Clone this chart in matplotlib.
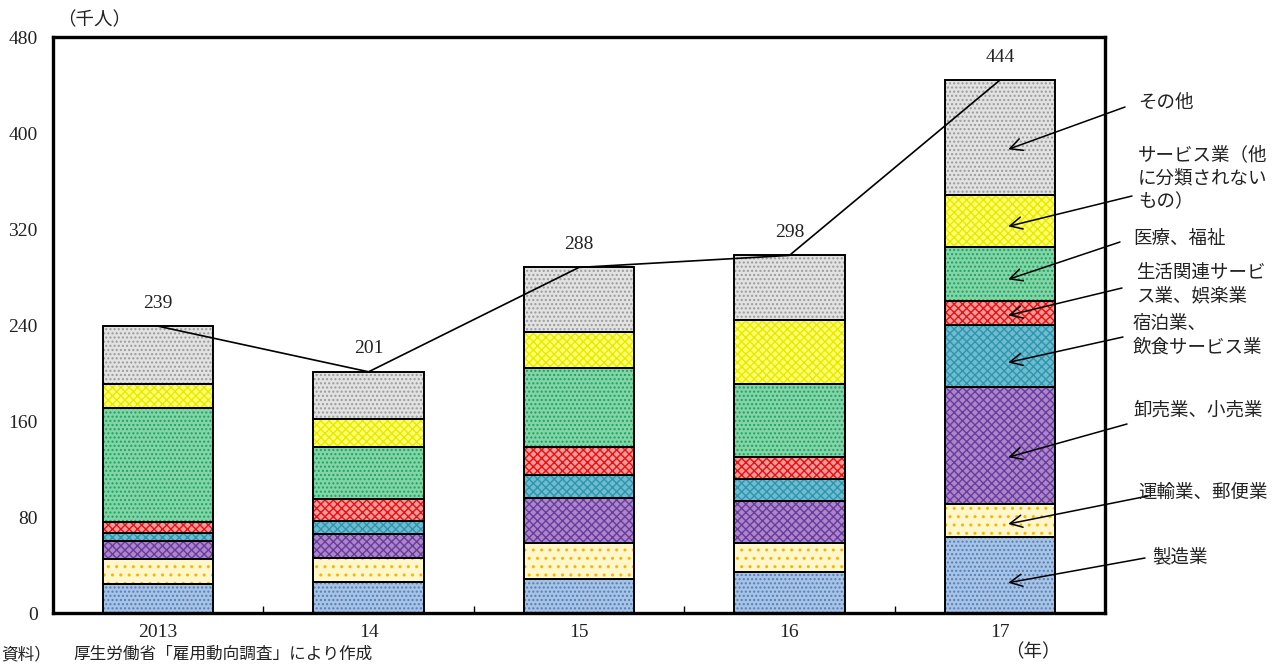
import matplotlib
matplotlib.use("Agg")
import matplotlib.pyplot as plt
import numpy as np

plt.rcParams['hatch.linewidth'] = 1.0

# Data (thousand persons)
years = ["2013", "14", "15", "16", "17"]
industries = [
    "製造業",
    "運輸業、郵便業",
    "卸売業、小売業",
    "宿泊業、\n飲食サービス業",
    "生活関連サービ\nス業、娯楽業",
    "医療、福祉",
    "サービス業（他\nに分類されない\nもの）",
    "その他",
]
manufacturing = [24, 26, 28, 34, 63]
transport = [21, 20, 30, 24, 28]
wholesale_retail = [15, 20, 38, 35, 97]
accommodation_food = [7, 11, 19, 19, 52]
living_leisure = [9, 18, 23, 18, 20]
medical_welfare = [95, 43, 66, 61, 45]
services_other = [20, 24, 30, 53, 43]
others = [48, 39, 54, 54, 96]
totals = [239, 201, 288, 298, 444]

series = [manufacturing, transport, wholesale_retail, accommodation_food,
          living_leisure, medical_welfare, services_other, others]

# fill tint, dot colour, hatch pattern for each segment
styles = [
    ("#a9c3e3", "#4f7fbf", "...."),
    ("#fff6cc", "#f5b800", ".."),
    ("#a987c9", "#6b3a9e", "xxxx"),
    ("#6ebccf", "#2f95ad", "xxxx"),
    ("#f49a9a", "#e81010", "xxxx"),
    ("#86d3aa", "#14a85a", "...."),
    ("#ffff70", "#e8e800", "xxxx"),
    ("#e2e2e2", "#9a9a9a", "...."),
]

SERIF = ["Liberation Serif", "DejaVu Serif"]
JP = ["Noto Sans CJK JP", "DejaVu Sans"]

fig = plt.figure(figsize=(12.79, 6.64), dpi=100)
ax = fig.add_axes([53 / 1279, 51 / 664, 1052 / 1279, 576 / 664])

x = np.arange(len(years))
width = 0.525
bottom = np.zeros(len(years))
for vals, (face, dot, hatch) in zip(series, styles):
    vals = np.array(vals, dtype=float)
    ax.bar(x, vals, width, bottom=bottom, color=face, edgecolor=dot,
           hatch=hatch, linewidth=0, zorder=2)
    ax.bar(x, vals, width, bottom=bottom, facecolor="none",
           edgecolor="black", linewidth=1.4, zorder=3)
    bottom += vals

# total line and labels
ax.plot(x, totals, color="black", linewidth=1.2, zorder=4)
for xi, t in zip(x, totals):
    ax.text(xi, t + 12, str(t), ha="center", va="bottom",
            fontsize=14, family=SERIF, color="#222222")

ax.set_xlim(-0.5, 4.5)
ax.set_ylim(0, 480)
ax.set_yticks(np.arange(0, 481, 80))
ax.set_xticks(x)
ax.set_xticklabels(years)
ax.set_xticks(np.arange(0.5, 4.0, 1.0), minor=True)
ax.tick_params(axis="y", length=0, pad=11)
ax.tick_params(axis="x", which="major", length=0, pad=8)
ax.tick_params(axis="x", which="minor", direction="in", length=5, width=1)
for lab in ax.get_xticklabels() + ax.get_yticklabels():
    lab.set_family(SERIF)
    lab.set_fontsize(14)
    lab.set_color("#222222")
for s in ax.spines.values():
    s.set_linewidth(2.4)

# callouts on the right pointing into the 2017 bar
text_pos = [  # left x (px), first-line centre y (px from top)
    (1152, 557), (1138, 493), (1133, 411), (1133, 324),
    (1136, 273), (1133, 239), (1138, 155), (1138, 103),
]
arrow_start = [
    (1145, 558), (1148, 496), (1127, 424), (1123, 337),
    (1122, 288), (1120, 242), (1132, 196), (1125, 107),
]
cum = np.cumsum([s[4] for s in series])
seg_bottom = np.concatenate([[0], cum[:-1]])
seg_height = np.array([s[4] for s in series])

H = 664
for name, (tx, ty), (sx, sy), b, h in zip(industries, text_pos, arrow_start,
                                          seg_bottom, seg_height):
    for i, line in enumerate(name.split("\n")):
        fig.text(tx / 1279, (H - ty - i * 23.5) / H, line, ha="left",
                 va="center", fontsize=13.3, family=JP, color="#222222")
    tip = (4.04, b + 0.4 * h)
    ax.annotate("", xy=tip, xycoords="data",
                xytext=(sx, H - sy), textcoords="figure pixels",
                arrowprops=dict(arrowstyle="->", color="black", lw=1.1,
                                mutation_scale=22, shrinkA=0, shrinkB=0),
                annotation_clip=False, zorder=5)

fig.text(57 / 1279, (H - 20) / H, "（千人）", ha="left", va="center",
         fontsize=13.3, family=JP, color="#222222")
fig.text(1005 / 1279, (H - 652) / H, "（年）", ha="left", va="center",
         fontsize=13.3, family=JP, color="#222222")
fig.text(1 / 1279, 1 / H, "資料）", ha="left", va="bottom",
         fontsize=12, family=JP, color="#222222")
fig.text(73 / 1279, 1 / H, "厚生労働省「雇用動向調査」により作成",
         ha="left", va="bottom", fontsize=12, family=JP, color="#222222")

fig.savefig("out.png", dpi=100)
